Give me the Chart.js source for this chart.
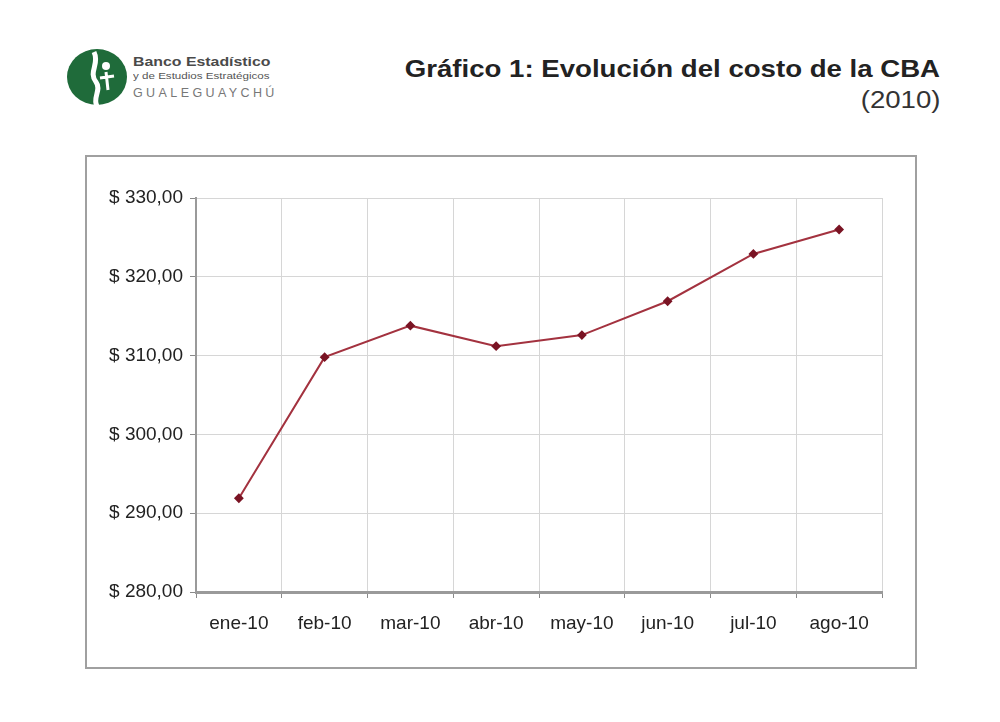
<!DOCTYPE html>
<html lang="es">
<head>
  <meta charset="UTF-8">
  <title>Gráfico 1: Evolución del costo de la CBA</title>
  <script src="https://cdn.jsdelivr.net/npm/chart.js"></script>
  <style>
    body { margin: 0; background: #fff; font-family: "Liberation Sans", Arial, sans-serif; }
    #page { position: relative; width: 1000px; height: 722px; overflow: hidden; }
    .logo { position: absolute; left: 64px; top: 46px; }
    .brand { position: absolute; left: 133px; white-space: nowrap; transform-origin: left top; }
    .brand1 { top: 54px; font-size: 13px; font-weight: bold; color: #4a4a4a; transform: scaleX(1.22); }
    .brand2 { top: 70px; font-size: 9.5px; color: #555; transform: scaleX(1.22); }
    .brand3 { top: 86px; font-size: 12.5px; color: #777; letter-spacing: 3.4px; }
    .title { position: absolute; right: 60px; top: 56px; font-size: 23px; font-weight: bold; color: #222; white-space: nowrap; transform: scaleX(1.2); transform-origin: right top; }
    .year { position: absolute; right: 60px; top: 87px; font-size: 23px; color: #333; transform: scaleX(1.2); transform-origin: right top; }
    .box { position: absolute; left: 85px; top: 155px; width: 828px; height: 510px; border: 2px solid #a0a0a0; }
    .wrap { position: absolute; left: 0; top: 0; width: 828px; height: 510px; }
  </style>
</head>
<body>
<div id="page">
  <svg class="logo" width="66" height="62" viewBox="0 0 66 62">
    <ellipse cx="33" cy="31" rx="30" ry="28" fill="#1f6b3a"/>
    <path d="M30 6 C 36 18, 24 26, 32 36 C 38 44, 28 52, 33 60" stroke="#fff" stroke-width="5" fill="none"/>
    <circle cx="42" cy="20" r="4" fill="#fff"/>
    <path d="M42 26 L 44 44 M 36 32 L 50 30" stroke="#fff" stroke-width="3" fill="none"/>
  </svg>
  <div class="brand brand1">Banco Estadístico</div>
  <div class="brand brand2">y de Estudios Estratégicos</div>
  <div class="brand brand3">GUALEGUAYCHÚ</div>

  <div class="title">Gráfico 1: Evolución del costo de la CBA</div>
  <div class="year">(2010)</div>

  <div class="box">
    <div class="wrap"><canvas id="cbaChart"></canvas></div>
  </div>
</div>

<script>
  const months = ['ene-10', 'feb-10', 'mar-10', 'abr-10', 'may-10', 'jun-10', 'jul-10', 'ago-10'];
  const costoCBA = [291.9, 309.8, 313.8, 311.2, 312.6, 316.9, 322.9, 326.0];
  const yTicks = [280, 290, 300, 310, 320, 330];

  const fmt = v => '$ ' + v.toFixed(2).replace('.', ',');

  const ctx = document.getElementById('cbaChart').getContext('2d');

  const chart = new Chart(ctx, {
    type: 'line',
    data: {
      labels: months,
      datasets: [{
        label: 'Costo CBA',
        data: costoCBA,
        borderColor: '#a3323f',
        borderWidth: 2,
        pointStyle: 'rectRot',
        pointRadius: 3.5,
        pointBackgroundColor: '#7a1424',
        pointBorderColor: '#7a1424',
        tension: 0
      }]
    },
    options: {
      responsive: true,
      maintainAspectRatio: false,
      animation: false,
      layout: { padding: { top: 41, right: 33, left: 0, bottom: 0 } },
      plugins: {
        legend: { display: false },
        tooltip: { enabled: false }
      },
      scales: {
        x: {
          offset: true,
          grid: { offset: true, color: '#d6d6d6', lineWidth: 1, tickLength: 6, tickColor: '#8a8a8a' },
          border: { color: '#9a9a9a', width: 3 },
          ticks: { color: '#222', font: { family: 'Liberation Sans', size: 19 }, padding: 14, maxRotation: 0 },
          afterFit: s => { s.height = 75; }
        },
        y: {
          min: 280,
          max: 330,
          afterBuildTicks: s => { s.ticks = yTicks.map(v => ({ value: v })); },
          grid: { color: '#d6d6d6', lineWidth: 1, tickLength: 6, tickColor: '#8a8a8a' },
          border: { color: '#9a9a9a', width: 2 },
          ticks: { color: '#222', font: { family: 'Liberation Sans', size: 19 }, padding: 7, callback: v => fmt(v) },
          afterFit: s => { s.width = 109; }
        }
      }
    }
  });
</script>
</body>
</html>
